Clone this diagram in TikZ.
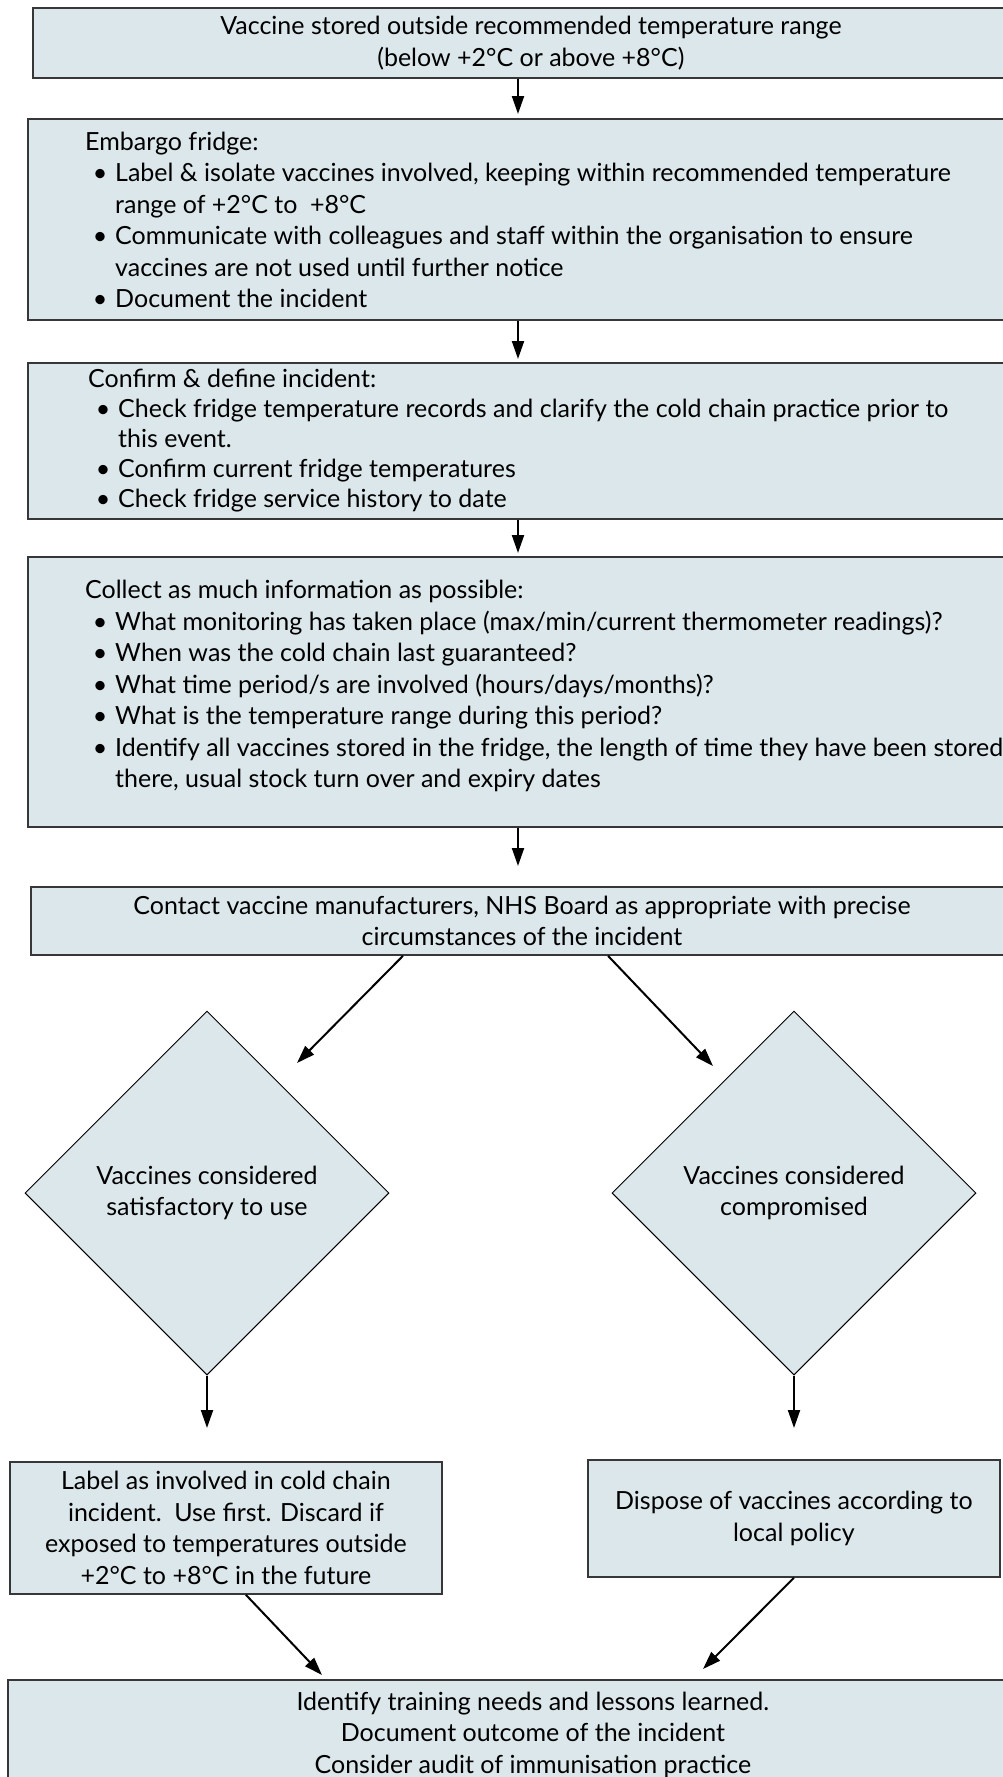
\documentclass[tikz,border=0pt]{standalone}
\usepackage{fontspec}
\setmainfont{Lato}
\usetikzlibrary{arrows.meta,shapes.geometric,calc}
\definecolor{boxfill}{RGB}{219,231,235}
\definecolor{boxline}{RGB}{55,55,55}
\newcommand\bulit{\makebox[30pt][c]{•}}
\newcommand\contin{\hspace*{30pt}}
\begin{document}
\begin{tikzpicture}[x=1pt,y=-1pt,
  every node/.style={font=\fontsize{25}{31.5}\selectfont},
  box/.style={draw=boxline, line width=1.8pt, fill=boxfill, rectangle, inner sep=0pt},
  rbox/.style={box, anchor=north west},
  txt/.style={align=left, anchor=west, inner sep=0pt},
  dia/.style={diamond, draw=black, line width=1pt, fill=boxfill, minimum width=364pt, minimum height=364pt, inner sep=0pt, align=center},
  arr/.style={line width=2pt, -{Triangle[length=18pt,width=12pt]}},
]
\useasboundingbox (0,0) rectangle (1003,1777);
\fill[white] (0,0) rectangle (1003,1777);

% boxes
\node[rbox, minimum width=996pt, minimum height=70pt, align=center] (b1) at (32,7)
  {Vaccine stored outside recommended temperature range\\(below +2°C or above +8°C)};

\node[rbox, minimum width=1013pt, minimum height=201pt] (b2) at (27,118) {};
\node[txt] (t2) at (85,220) {Embargo fridge:\\
\bulit Label \& isolate vaccines involved, keeping within recommended temperature\\
\contin range of +2°C to\enspace +8°C\\
\bulit Communicate with colleagues and staff within the organisation to ensure\\
\contin vaccines are not used until further notice\\
\bulit Document the incident};

\node[rbox, minimum width=1013pt, minimum height=156pt] (b3) at (27,362) {};
\node[txt, font=\fontsize{25}{30}\selectfont] (t3) at (88,441) {Confirm \& define incident:\\
\bulit Check fridge temperature records and clarify the cold chain practice prior to\\
\contin this event.\\
\bulit Confirm current fridge temperatures\\
\bulit Check fridge service history to date};

\node[rbox, minimum width=1013pt, minimum height=270pt] (b4) at (27,556) {};
\node[txt] (t4) at (85,686) {Collect as much information as possible:\\
\bulit What monitoring has taken place (max/min/current thermometer readings)?\\
\bulit When was the cold chain last guaranteed?\\
\bulit What time period/s are involved (hours/days/months)?\\
\bulit What is the temperature range during this period?\\
\bulit Identify all vaccines stored in the fridge, the length of time they have been stored\\
\contin there, usual stock turn over and expiry dates};

\node[rbox, minimum width=982pt, minimum height=68pt, align=center] (b5) at (30,886)
  {Contact vaccine manufacturers, NHS Board as appropriate with precise\\circumstances of the incident};

% diamonds
\node[dia] (dL) at (207,1193) {Vaccines considered\\satisfactory to use};
\node[dia] (dR) at (794,1193) {Vaccines considered\\compromised};

% lower boxes
\node[rbox, minimum width=432pt, minimum height=132pt, align=center] (lab) at (9,1461)
  {Label as involved in cold chain\\incident.\enspace Use first. Discard if\\exposed to temperatures outside\\+2°C to +8°C in the future};
\node[rbox, minimum width=412pt, minimum height=117pt, align=center] (disp) at (587,1459)
  {Dispose of vaccines according to\\local policy};
\node[rbox, minimum width=1050pt, minimum height=110pt, align=center] (fin) at (7,1679)
  {Identify training needs and lessons learned.\\Document outcome of the incident\\Consider audit of immunisation practice};

% arrow ends
\coordinate (a1) at (518,114);
\coordinate (a2) at (518,359);
\coordinate (a3) at (518,553);
\coordinate (a4) at (518,866);
\coordinate (cL) at (297,1063);
\coordinate (cR) at (713,1066);
\coordinate (eL) at (207,1428);
\coordinate (eR) at (794,1428);
\coordinate (fL) at (322,1675);
\coordinate (fR) at (703,1669);

\draw[arr] (b1.south -| a1) -- (a1);
\draw[arr] (b2.south -| a2) -- (a2);
\draw[arr] (b3.south -| a3) -- (a3);
\draw[arr] (b4.south -| a4) -- (a4);
\draw[arr] ($(b5.south west)+(373,0)$) -- (cL);
\draw[arr] ($(b5.south west)+(578,0)$) -- (cR);
\draw[arr] (dL.south) -- (eL);
\draw[arr] (dR.south) -- (eR);
\draw[arr] ($(lab.south)+(20,0)$) -- (fL);
\draw[arr] (disp.south) -- (fR);
\end{tikzpicture}
\end{document}
